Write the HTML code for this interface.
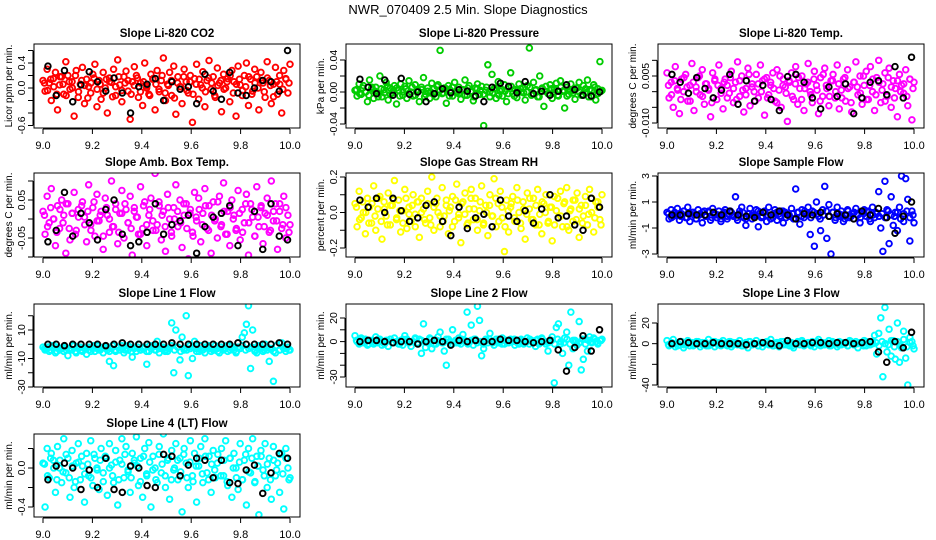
<!DOCTYPE html>
<html><head><meta charset="utf-8">
<style>
html,body{margin:0;padding:0;background:#fff;}
svg{display:block;font-family:"Liberation Sans",sans-serif;}
</style></head>
<body>
<svg id="chart" width="936" height="540" viewBox="0 0 936 540" xmlns="http://www.w3.org/2000/svg">
<rect x="0" y="0" width="936" height="540" fill="#fff"/>
<text x="468" y="14" text-anchor="middle" font-size="13">NWR_070409  2.5 Min. Slope Diagnostics</text>
</svg>
<script>
// ---- data (values in panel units × scale) ----
const co2Vals=[12,-5,30,8,-20,15,25,-35,5,18,-10,42,20,-2,10,-45,28,-15,6,33,-25,14,2,-8,22,38,-30,12,-18,25,0,-40,16,9,30,-12,45,5,-22,18,27,-5,-50,10,34,20,-15,8,-28,40,3,-10,22,15,-35,28,-6,12,48,-20,6,25,-12,35,-42,18,2,-25,30,10,-8,20,-55,15,38,-18,5,26,-30,12,44,-2,18,-15,32,8,-38,22,0,15,-22,28,10,-45,35,5,-12,20,40,-28,14,-5,30,18,-35,25,8,-15,42,12,-25,6,33,-10,20,-40,28,15,-8,38];
const co2Core=[8,-4,14,2,-10,18,6,-12,10,0,20,-6,12,4,-16,8,16,-2,6,-8,14,10,-14,2,18,-4,8,12,-10,4,16,-6,10,0,-12,14,6,-2,20,-8,4,12,-16,8,2,18,-4,10,-10,6,14,0,-6,16,8,-12,4,12,-2,10,20,-8,6,14,-4,2,18,-10,8,0,12,-6,16,4,-14,10,6,-2,14,8];
const co2Black=[35,-12,28,-22,5,26,10,-5,16,-8,-40,2,6,15,-20,10,-2,2,-25,22,-5,-18,25,-8,-12,0,12,10,-5,60];
const presVals=[2,-5,10,-3,8,0,-12,15,4,-8,6,-2,20,-6,3,12,-10,5,-1,8,-15,2,10,-4,7,-8,14,0,-5,9,3,-12,6,18,-3,1,-8,11,4,-6,9,52,-2,5,-14,8,2,-5,12,-1,6,-9,3,15,-4,8,0,-11,5,10,-3,7,-42,2,34,-6,22,4,-8,13,1,-5,9,-12,6,24,-2,3,-7,10,0,5,-10,8,55,-4,12,2,-6,20,4,-18,7,-2,9,-8,3,11,-5,14,1,-20,6,-3,10,2,-9,5,12,-4,8,-1,15,3,-6,9,-10,4,38,2];
const presCore=[3,-2,5,0,-4,6,1,-6,4,-1,7,-3,2,5,-5,0,4,-2,6,-4,1,3,-6,5,0,-3,7,2,-1,4,-5,6,0,-2,3,-4,5,1,-6,4,2,-3,6,0,-1,5,-4,3,1,-2,7,-5,2,4,-1,0,6,-3,3,-6,5,1,-2,4,0,-4,6,2,-5,3,-1,5,0,-3,4,-6,2,6,-2,1];
const presBlack=[16,6,-2,15,-4,17,-3,0,-12,-2,4,-1,3,1,-5,-12,6,11,7,-1,13,-2,1,-4,1,9,3,-4,-5,0];
const litVals=[60,-20,30,-50,80,10,-70,40,0,55,-30,20,90,-60,15,45,-10,70,-40,25,5,-80,60,35,-25,85,10,-55,40,20,-5,65,-35,30,95,-15,50,-65,10,75,-45,25,0,55,-20,85,35,-75,45,-10,20,60,-30,70,5,-50,40,15,-95,30,60,-25,80,-40,10,50,-60,25,90,0,-35,65,20,-70,45,-15,75,10,-45,35,55,-20,85,-55,5,40,-30,70,15,-65,30,95,-10,50,-40,20,65,-25,80,0,-60,45,100,-35,25,60,-15,75,-50,35,10,-80,55,20,-5,70,-45,40,-90,30];
const litCore=[20,-10,35,5,-25,45,15,-30,30,0,50,-15,25,10,-35,40,20,-5,30,-20,45,10,-25,35,5,-10,55,15,-30,25,0,40,-20,30,10,-35,50,20,-5,35,-15,25,45,-25,10,30,-10,40,5,-30,55,20,-15,35,0,25,-20,45,10,-35,30,15,-5,50,-25,20,40,-10,30,5,-30,45,15,-20,35,0,25,-15,40,10];
const litBlack=[55,30,-5,45,10,-20,5,55,-40,35,-30,20,-25,-60,48,55,30,-20,-55,15,-15,25,-70,-20,30,35,-10,80,-20,110];
const ambVals=[20,-40,60,-10,80,0,-70,35,-25,50,10,-90,40,-55,15,70,-30,25,-110,45,5,-60,90,-15,30,-45,65,-5,20,-80,55,10,-35,100,-20,40,-65,15,75,-50,25,-10,60,-95,30,5,-40,85,-25,45,-70,10,55,-30,120,-15,35,-55,20,-85,65,0,-45,30,90,-20,50,-75,10,40,-105,25,-35,70,-5,55,-60,15,80,-25,35,-90,45,0,-50,60,-15,95,-40,20,-70,50,10,-30,75,-55,25,-10,65,-95,40,5,-45,85,-20,30,-65,15,55,-35,100,-5,40,-80,20,-25,60,-50,10,-15];
const ambCore=[10,-20,30,0,-35,25,-10,40,-25,15,-40,5,35,-15,20,-30,45,-5,10,-45,30,0,-20,25,-35,15,40,-10,-25,20,5,-40,35,-15,25,-5,-30,45,10,-20,30,-35,0,20,-10,40,-25,15,-45,5,25,-15,35,-30,10,-5,45,-20,20,-40,30,0,-25,15,-35,40,-10,25,-45,5,35,-20,10,-30,20,-5,40,-15,30,-35];
const ambBlack=[-60,-30,70,-45,15,-10,-55,25,50,-40,-70,-60,-35,40,-40,-15,-5,10,-90,-20,5,15,35,-70,-115,20,-80,40,-45,-55];
const rhVals=[5,-8,12,-3,0,-12,8,3,-6,15,-10,2,9,-15,6,-2,11,-7,4,18,-4,7,-11,1,13,-9,3,-5,10,-1,6,-14,8,2,-6,12,-3,20,-10,5,0,-8,14,-2,7,-12,3,9,-5,16,-1,-17,6,11,-7,2,13,-4,8,-10,1,15,-6,4,-13,10,-2,19,-8,5,12,-3,-22,7,-11,3,9,-5,14,0,-9,6,-15,11,2,-4,8,-7,13,-1,-12,5,10,-6,3,-16,9,1,-3,12,-8,6,14,-10,2,-5,7,11,-14,4,-2,9,-7,13,0,-11,6,3,-4,10];
const rhCore=[3,-4,6,0,-6,5,-2,8,-5,2,-7,4,7,-3,1,-6,8,-1,4,-8,6,0,-4,5,-7,3,8,-2,-5,4,1,-8,7,-3,5,-1,-6,8,2,-4,6,-7,0,4,-2,8,-5,3,-8,1,5,-3,7,-6,2,-1,8,-4,4,-7,6,0,-5,3,-7,8,-2,5,-8,1,7,-4,2,-6,4,-1,8,-3,6,-7];
const rhBlack=[7,3,8,0,8,1,-5,-3,4,6,-5,-13,3,-9,-3,-1,-8,7,-2,-5,1,-6,2,10,-3,-2,-7,-10,8,3];
const sfVals=[2,-3,4,-1,0,5,-4,1,3,-2,6,-5,2,0,-3,4,1,-6,3,-1,2,-4,5,0,-2,3,-5,1,4,-3,0,2,-1,14,-4,3,6,-2,-8,1,5,-3,0,4,-9,2,-1,3,-5,6,0,-2,4,-4,1,3,-6,2,0,-1,5,-3,20,2,-7,4,-2,1,6,-15,3,-24,10,-1,-12,4,22,-18,8,-30,2,-4,6,-1,3,-5,0,4,-2,1,-3,5,0,-6,2,4,-1,3,-5,6,-2,1,18,-10,-28,26,4,-22,14,-8,2,-12,6,30,-5,28,12,-20,3,-6];
const sfCore=[1,-2,2,0,-1,3,-2,1,2,-3,0,2,-1,3,-2,1,0,-3,2,-1,3,0,-2,1,2,-3,1,0,-1,3,-2,2,0,-3,1,2,-1,3,-2,0,1,-3,2,-1,3,0,-2,2,1,-3,0,3,-1,2,-2,1,0,-3,3,-1,2,0,-2,1,3,-3,0,2,-1,1,-2,3,0,-1,2,-3,1,3,-2,0];
const sfBlack=[0,0,1,0,0,2,0,3,0,-1,-2,2,0,3,0,-3,1,0,2,-1,1,0,-3,3,0,5,-2,-14,-1,10];
const l1Vals=[-2,-4,-3,-5,-1,-3,-6,-2,-4,-3,-5,-2,-8,-3,-4,-1,-6,-3,-2,-5,-3,-7,-4,-2,-3,-5,-1,-4,-3,-6,-2,-4,-12,-3,-15,-5,-2,-4,-1,-6,-3,-4,-2,-9,-3,-5,0,-4,-3,-2,-14,-5,-3,-1,-4,2,-6,-3,-2,-4,-5,-3,15,-20,10,-2,-11,5,-4,20,-22,-3,-10,2,-5,-3,-1,-4,-6,-2,-3,-5,-4,-1,-3,-6,-2,-4,-3,-5,-1,-3,-4,-6,-2,-3,5,8,14,27,-17,10,-4,-6,-3,-2,-5,0,-4,-12,-3,-26,-6,-35,-4,1,-3,-5,-2,-4];
const l1Core=[-3,-2,-4,-1,-5,-3,-2,-4,-3,-1,-5,-2,-4,-3,-2,-5,-1,-3,-4,-2,-3,-5,-1,-4,-2,-3,-4,-1,-5,-3,-2,-4,-3,-5,-1,-2,-4,-3,-2,-5,-3,-1,-4,-2,-5,-3,-4,-1,-2,-3,-5,-4,-2,-1,-3,-4,-5,-2,-3,-1,-4,-2,-5,-3,-1,-4,-3,-2,-5,-1,-3,-4,-2,-3,-5,-1,-4,-2,-3,-4];
const l1Black=[0,0,-1,0,0,0,0,-1,0,1,0,0,0,0,0,1,0,0,0,0,0,0,0,1,0,0,0,0,1,0];
const l2Vals=[5,0,-2,3,-1,2,-3,1,0,-2,4,-1,2,-3,0,1,-4,2,-1,3,0,-2,1,-3,5,2,-1,-4,0,3,-1,2,-10,15,-5,0,3,-6,1,-2,4,8,-1,-8,-20,2,-3,10,0,-1,3,-2,6,1,25,-1,14,-3,2,30,18,-12,-6,2,-1,7,0,-3,2,-1,0,3,-2,1,-1,2,0,-3,1,-2,2,0,-1,3,-2,1,0,-4,2,-1,3,0,-2,-8,1,4,-35,12,15,-2,-10,3,8,-20,25,-6,1,-3,17,-24,-15,2,-8,4,-1,3,0,-2,1,2];
const l2Core=[1,-1,2,0,-2,1,-1,2,0,-2,1,2,-1,0,-2,2,1,-1,0,2,-2,1,0,-1,2,-2,1,0,-1,2,0,-2,1,-1,2,0,-2,1,2,-1,0,-2,1,2,-1,0,2,-2,1,-1,0,2,-1,1,-2,0,2,-1,1,-2,2,0,-1,1,-2,2,0,-1,2,-2,1,0,-1,2,-2,1,0,2,-1,1];
const l2Black=[0,1,1,0,-1,0,0,-2,0,1,0,-3,1,0,1,0,0,2,1,1,0,-1,0,1,-7,-25,-5,5,-8,10];
const l3Vals=[3,-2,0,4,-3,1,-1,2,-4,0,3,-2,1,-1,0,2,-3,1,0,-2,4,-1,2,-3,0,1,-2,3,-1,0,2,-3,1,0,-1,3,-2,0,1,-4,2,-1,0,3,-2,1,-3,0,2,-1,4,-2,0,1,-3,2,-1,0,3,-2,1,-4,0,2,-1,3,-2,0,1,-1,2,-3,0,4,-2,1,-1,0,3,-2,1,0,-3,2,-1,0,1,-2,3,0,-1,2,-4,1,0,3,-2,1,-1,2,8,-10,10,25,-32,35,-8,14,-12,3,-15,20,-18,-4,12,-14,-40,6,2,-5];
const l3Core=[-1,1,0,-2,2,-1,0,1,-2,2,0,-1,1,-2,0,2,-1,1,0,-2,2,-1,1,0,-2,1,2,-1,0,-2,1,0,2,-1,-2,1,0,2,-1,1,-2,0,1,2,-1,0,-2,1,2,0,-1,1,-2,2,0,-1,1,0,-2,2,-1,0,1,-2,2,-1,0,1,-2,2,0,-1,3,-3,2,-2,4,-3,1,-2];
const l3Black=[0,2,1,0,0,1,0,0,0,-1,0,1,0,-2,3,0,0,1,1,0,1,1,0,1,2,-8,-18,2,-4,11];
const l4Vals=[5,-40,20,-10,15,8,-25,22,0,-15,30,-5,10,-30,18,-20,5,25,-12,2,-35,15,-8,28,-18,10,0,-22,20,-5,12,-28,25,3,-15,18,-38,8,30,-10,22,-2,-25,15,5,32,-18,10,-30,20,-8,26,-40,12,0,-15,22,-5,35,-20,8,-32,18,-2,25,-12,10,-45,20,5,-20,28,-8,15,-35,2,22,-15,30,-5,12,-25,18,-10,5,-55,20,-8,28,-18,10,-30,15,0,-22,25,-12,8,-38,20,-5,30,-15,12,-48,18,-2,25,-20,10,-32,22,-8,5,-25,15,-42,20,0,-10];
const l4Core=[4,-8,10,0,-12,8,-4,14,-10,2,-14,6,12,-6,4,-10,14,-2,8,-14,10,0,-8,6,-12,4,14,-4,-10,8,2,-14,12,-6,6,-2,-12,14,4,-8,10,-12,0,8,-4,14,-10,6,-14,2,10,-6,12,-12,4,-2,14,-8,8,-14,10,0,-10,6,-12,14,-4,10,-14,2,12,-8,4,-12,8,-2,14,-6,10,-12];
const l4Black=[-12,2,5,0,-22,-2,-20,10,-22,-25,2,0,-18,-20,14,12,-8,3,10,8,-10,8,-15,-16,-2,3,-26,-5,15,10];
const xTicks=[9.0,9.2,9.4,9.6,9.8,10.0];
const xTickLabels=["9.0","9.2","9.4","9.6","9.8","10.0"];

// ---- layout ----
const colL=[34,346,658], colR=[300,612,924];
const rowT=[44,173,304,434], rowB=[128,257,387,517];
const panels=[
 {name:"co2",title:"Slope Li-820 CO2",ylab:"Licor ppm per min.",c:0,r:0,color:"#ff0000",vals:co2Vals,core:co2Core,blk:co2Black,scale:100,ya:0.4,pa:63,yb:0,pb:88,ticks:[-0.6,-0.4,-0.2,0,0.2,0.4,0.6],labs:{"-0.6":"-0.6","0":"0.0","0.4":"0.4"}},
 {name:"pressure",title:"Slope Li-820 Pressure",ylab:"kPa per min.",c:1,r:0,color:"#00cc00",vals:presVals,core:presCore,blk:presBlack,scale:1000,ya:0.04,pa:60,yb:0,pb:92,ticks:[-0.04,-0.02,0,0.02,0.04],labs:{"-0.04":"-0.04","0":"0.00","0.04":"0.04"}},
 {name:"li-temp",title:"Slope Li-820 Temp.",ylab:"degrees C per min.",c:2,r:0,color:"#ff00ff",vals:litVals,core:litCore,blk:litBlack,scale:10000,ya:0.005,pa:76,yb:-0.01,pb:123,ticks:[-0.01,-0.005,0,0.005,0.01],labs:{"-0.01":"-0.010","0.005":"0.005"}},
 {name:"amb-box-temp",title:"Slope Amb. Box Temp.",ylab:"degrees C per min.",c:0,r:1,color:"#ff00ff",vals:ambVals,core:ambCore,blk:ambBlack,scale:1000,ya:0.05,pa:200,yb:-0.05,pb:238,ticks:[-0.1,-0.05,0,0.05,0.1],labs:{"-0.05":"-0.05","0.05":"0.05"}},
 {name:"gas-stream-rh",title:"Slope Gas Stream RH",ylab:"percent per min.",c:1,r:1,color:"#ffff00",vals:rhVals,core:rhCore,blk:rhBlack,scale:100,ya:0.2,pa:177,yb:-0.2,pb:248,ticks:[-0.2,-0.1,0,0.1,0.2],labs:{"-0.2":"-0.2","0":"0.0","0.2":"0.2"}},
 {name:"sample-flow",title:"Slope Sample Flow",ylab:"ml/min per min.",c:2,r:1,color:"#0000ff",vals:sfVals,core:sfCore,blk:sfBlack,scale:10,ya:1,pa:202,yb:-1,pb:228,ticks:[-3,-1,1,3],labs:{"-3":"-3","-1":"-1","1":"1","3":"3"}},
 {name:"line1-flow",title:"Slope Line 1 Flow",ylab:"ml/min per min.",c:0,r:2,color:"#00ffff",vals:l1Vals,core:l1Core,blk:l1Black,scale:1,ya:10,pa:330,yb:-30,pb:387,ticks:[-30,-20,-10,0,10,20],labs:{"-30":"-30","-10":"-10","10":"10"}},
 {name:"line2-flow",title:"Slope Line 2 Flow",ylab:"ml/min per min.",c:1,r:2,color:"#00ffff",vals:l2Vals,core:l2Core,blk:l2Black,scale:1,ya:20,pa:318,yb:-30,pb:377,ticks:[-30,-20,-10,0,10,20],labs:{"-30":"-30","0":"0","20":"20"}},
 {name:"line3-flow",title:"Slope Line 3 Flow",ylab:"ml/min per min.",c:2,r:2,color:"#00ffff",vals:l3Vals,core:l3Core,blk:l3Black,scale:1,ya:20,pa:323,yb:-40,pb:385,ticks:[-40,-20,0,20],labs:{"-40":"-40","0":"0","20":"20"}},
 {name:"line4-flow",title:"Slope Line 4 (LT) Flow",ylab:"ml/min per min.",c:0,r:3,color:"#00ffff",vals:l4Vals,core:l4Core,blk:l4Black,scale:100,ya:0,pa:468,yb:-0.4,pb:507,ticks:[-0.4,-0.2,0,0.2],labs:{"-0.4":"-0.4","0":"0.0"}}
];
const NS="http://www.w3.org/2000/svg";
const svg=document.getElementById("chart");
function mk(tag,attrs,parent){const e=document.createElementNS(NS,tag);for(const k in attrs)e.setAttribute(k,attrs[k]);(parent||svg).appendChild(e);return e;}

panels.forEach(p=>{
 const L=colL[p.c],R=colR[p.c],T=rowT[p.r],B=rowB[p.r];
 const x0=L+9,x1=R-10;
 const xs=v=>x0+(v-9)*(x1-x0);
 const ys=v=>p.pa+(v-p.ya)*(p.pb-p.pa)/(p.yb-p.ya);
 const g=mk("g",{});
 
 
 const t=mk("text",{x:(L+R)/2,y:T-7,"text-anchor":"middle","font-size":"11.5","font-weight":"bold"},g);
 t.textContent=p.title;
 
 
 const yl=mk("text",{x:0,y:0,transform:`translate(${L-22},${(T+B)/2}) rotate(-90)`,"text-anchor":"middle","font-size":"10"},g);
 yl.textContent=p.ylab;
 
 
 const cid="clip"+p.name;
 const cp=mk("clipPath",{id:cid},g);mk("rect",{x:L,y:T,width:R-L,height:B-T},cp);
 const pts=mk("g",{"clip-path":`url(#${cid})`},g);
 
 
 const drawSeries=(arr,start,span,color,nm)=>{
  const n=arr.length;
  arr.forEach((v,i)=>{
   const c=mk("circle",{cx:xs(start+i*span/(n-1)),cy:ys(v/p.scale),r:2.8,fill:"none",stroke:color,"stroke-width":1.9},pts);
   
   
  });
 };
 drawSeries(p.vals,9,1,p.color,p.name+'-point');
 drawSeries(p.core,9.006,0.99,p.color,p.name+'-point');
 drawSeries(p.blk,9.02,0.97,"#000",p.name+'-reference-point');
 const box=mk("rect",{x:L,y:T,width:R-L,height:B-T,fill:"none",stroke:"#000","stroke-width":1},g);
 
 
 const xa=mk("g",{},g);
 
 
 mk("line",{x1:xs(9),x2:xs(10),y1:B+1,y2:B+1,stroke:"#000"},xa);
 xTicks.forEach((tv,i)=>{
  mk("line",{x1:xs(tv),x2:xs(tv),y1:B+1,y2:B+6,stroke:"#000"},xa);
  const tl=mk("text",{x:xs(tv),y:B+21,"text-anchor":"middle","font-size":"11"},xa);
  tl.textContent=xTickLabels[i];
  
  
 });
 const ya=mk("g",{},g);
 
 
 const yt=p.ticks.map(ys).filter(y=>y>=T-1&&y<=B+1);
 if(yt.length) mk("line",{x1:L-1,x2:L-1,y1:Math.min(...yt),y2:Math.max(...yt),stroke:"#000"},ya);
 p.ticks.forEach(tv=>{
  const y=ys(tv); if(y<T-1||y>B+1) return;
  mk("line",{x1:L-6,x2:L-1,y1:y,y2:y,stroke:"#000"},ya);
  const lab=p.labs[String(tv)];
  if(lab){
   const tl=mk("text",{x:0,y:0,transform:`translate(${L-9},${y}) rotate(-90)`,"text-anchor":"middle","font-size":"10.5"},ya);
   tl.textContent=lab;
   
   
  }
 });
});
</script>
</body></html>
